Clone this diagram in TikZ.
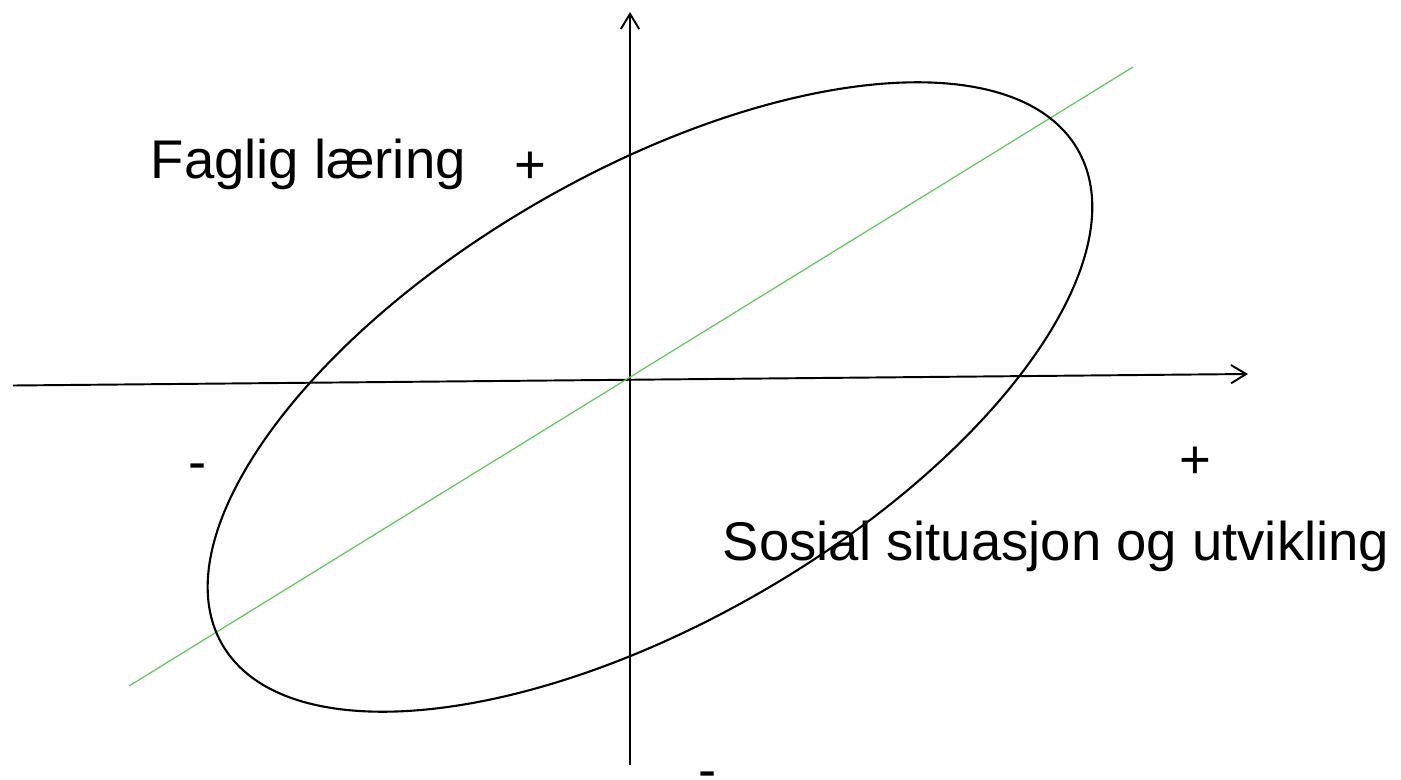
\documentclass[tikz,border=0pt]{standalone}
\usepackage{fontspec}
\setmainfont{Liberation Sans}
\usetikzlibrary{arrows.meta}
\definecolor{lineGreen}{RGB}{95,200,95}
\tikzset{
  axis/.style={line width=0.55pt, -{Straight Barb[length=4.3pt,width=5.2pt,line width=0.55pt]}},
  lbl/.style={inner sep=0pt, font=\fontsize{15.5}{18.6}\selectfont},
  oval/.style={line width=0.6pt},
  trend/.style={lineGreen, line width=0.35pt}
}
\begin{document}
\begin{tikzpicture}[x=0.01cm,y=-0.01cm]
\useasboundingbox (0,0) rectangle (1401,779);
% axes
\coordinate (xL) at (13,385.5);
\coordinate (xR) at (1248,374);
\coordinate (yB) at (630,765);
\coordinate (yT) at (630,12);
\draw[axis] (xL) -- (xR);
\draw[axis] (yB) -- (yT);
% green line
\coordinate (gA) at (129,686);
\coordinate (gB) at (1133,67);
\draw[trend] (gA) -- (gB);
% ellipse
\coordinate (c) at (650,397);
\draw[oval, rotate around={30.07:(c)}] (c) ellipse [x radius=4.939cm, y radius=2.243cm];
% labels
\node[lbl, anchor=base west] (fag) at (150,179) {Faglig læring};
\node[lbl, anchor=base] (plusTop) at (530,183) {+};
\node[lbl, anchor=base west] (sos) at (722,560) {Sosial situasjon og utvikling};
\node[lbl, anchor=base] (plusRight) at (1195,478) {+};
\node[lbl, anchor=base] (minusLeft) at (198,480) {-};
\node[lbl, anchor=base] (minusBottom) at (708,788) {-};
\end{tikzpicture}
\end{document}
